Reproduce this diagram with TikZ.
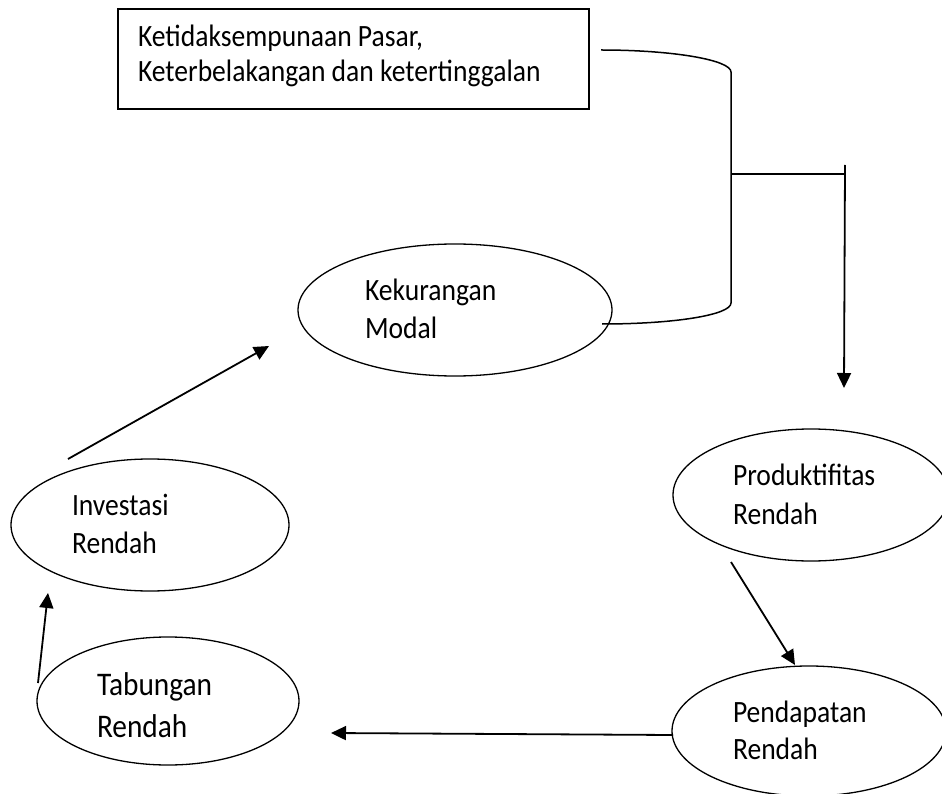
\documentclass[tikz,border=0pt]{standalone}
\usepackage{fontspec}
\setmainfont{Carlito}[FakeStretch=0.89]
\usetikzlibrary{arrows.meta,shapes.geometric}
\begin{document}
\begin{tikzpicture}[x=1pt,y=-1pt,
  oval/.style={draw, ellipse, line width=1.3pt, inner sep=0pt, outer sep=0pt},
  lbl/.style={inner sep=0pt, outer sep=0pt, align=left, anchor=base west, font=\fontsize{31}{38}\selectfont},
  arr/.style={line width=1.8pt, -{Triangle[length=15pt,width=14pt]}},
  ln/.style={line width=1.5pt}]
\useasboundingbox (0,0) rectangle (942,794);
% box
\node[draw, line width=2pt, minimum width=471pt, minimum height=100pt, inner sep=0pt, outer sep=0pt, anchor=north west] (box) at (118,9) {};
\node[lbl, font=\fontsize{31}{35}\selectfont] (boxtxt) at (138,82) {Ketidaksempunaan Pasar,\\Keterbelakangan dan ketertinggalan};
% ellipses
\node[oval, minimum width=314pt, minimum height=132pt] (kek) at (455,310) {};
\node[oval, minimum width=276pt, minimum height=132pt] (prod) at (811,495) {};
\node[oval, minimum width=274pt, minimum height=130pt] (pend) at (809,731) {};
\node[oval, minimum width=278pt, minimum height=132pt] (inv) at (150,525) {};
\node[oval, minimum width=262pt, minimum height=128pt] (tab) at (168,701) {};
% labels
\node[lbl] (kektxt) at (365,338) {Kekurangan\\Modal};
\node[lbl, font=\fontsize{31}{39}\selectfont] (prodtxt) at (733,524) {Produktifitas\\Rendah};
\node[lbl, font=\fontsize{31}{37}\selectfont] (pendtxt) at (733,759) {Pendapatan\\Rendah};
\node[lbl] (invtxt) at (72,553) {Investasi\\Rendah};
\node[lbl, font=\fontsize{33}{42}\selectfont] (tabtxt) at (97,737) {Tabungan\\Rendah};
% bracket
\coordinate (bt0) at (601,50);
\coordinate (bt1) at (731,72);
\coordinate (bb1) at (731,303);
\coordinate (bb0) at (602,324);
\coordinate (bm) at (731,174);
\coordinate (rt) at (845,174);
\coordinate (rtop) at (845,165);
\coordinate (rend) at (844,388);
\draw[ln] (bt0) .. controls (673,50) and (731,60) .. (bt1) -- (bb1) .. controls (731,315) and (674,324) .. (bb0);
\draw[ln] (bm) -- (rt);
\draw[arr] (rtop) -- (rend);
% arrows
\coordinate (a1s) at (68,459);
\coordinate (a1e) at (269,346);
\coordinate (a2s) at (38,683);
\coordinate (a2e) at (48,593);
\coordinate (a3s) at (731,562);
\coordinate (a3e) at (795,665);
\coordinate (a4s) at (673,735);
\coordinate (a4e) at (331,733);
\draw[arr] (a1s) -- (a1e);
\draw[arr] (a2s) -- (a2e);
\draw[arr] (a3s) -- (a3e);
\draw[arr] (a4s) -- (a4e);
\end{tikzpicture}
\end{document}
